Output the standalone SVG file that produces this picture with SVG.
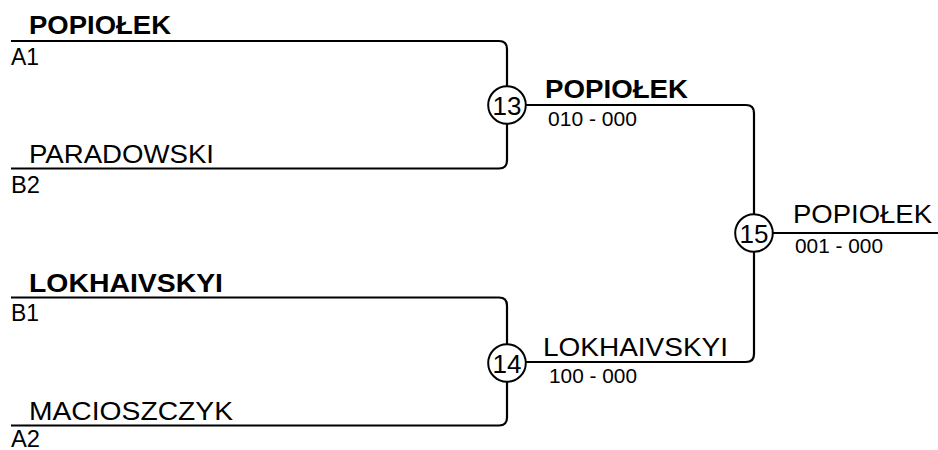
<svg xmlns="http://www.w3.org/2000/svg" width="938" height="450" viewBox="0 0 938 450">
<style>
.ln{fill:none;stroke:#000;stroke-width:2.2}
.c{fill:#fff;stroke:#000;stroke-width:2}
text{font-family:"Liberation Sans",Arial,sans-serif;fill:#000}
.nm{font-size:26px}
.b{font-weight:bold}
.sd{font-size:24.5px}
.sc{font-size:20.5px}
.num{font-size:26px;text-anchor:middle}
</style>
<rect width="938" height="450" fill="#fff"/>
<g id="connectors">
<path class="ln" d="M11,41 H499 Q507,41 507,49 V86"/>
<path class="ln" d="M507,124 V160.5 Q507,168.5 499,168.5 H11"/>
<path class="ln" d="M526,105 H746 Q754,105 754,113 V214"/>
<path class="ln" d="M11,297.5 H499 Q507,297.5 507,305.5 V344"/>
<path class="ln" d="M507,382 V417.5 Q507,425.5 499,425.5 H11"/>
<path class="ln" d="M526,362 H746 Q754,362 754,354 V252"/>
<path class="ln" d="M773,233 H938"/>
</g>
<g id="entry-a1">
<text class="nm b" x="29" y="33.5" textLength="142" lengthAdjust="spacingAndGlyphs">POPIOŁEK</text>
<text class="sd" x="11" y="64.5" textLength="28" lengthAdjust="spacingAndGlyphs">A1</text>
</g>
<g id="entry-b2">
<text class="nm" x="29" y="162.5" textLength="185" lengthAdjust="spacingAndGlyphs">PARADOWSKI</text>
<text class="sd" x="11" y="192.5" textLength="29" lengthAdjust="spacingAndGlyphs">B2</text>
</g>
<g id="entry-b1">
<text class="nm b" x="29" y="292" textLength="194" lengthAdjust="spacingAndGlyphs">LOKHAIVSKYI</text>
<text class="sd" x="11" y="321" textLength="28" lengthAdjust="spacingAndGlyphs">B1</text>
</g>
<g id="entry-a2">
<text class="nm" x="29" y="420" textLength="204" lengthAdjust="spacingAndGlyphs">MACIOSZCZYK</text>
<text class="sd" x="11" y="447" textLength="29" lengthAdjust="spacingAndGlyphs">A2</text>
</g>
<g id="match-13">
<circle class="c" cx="507" cy="105" r="18.8"/>
<text class="num" x="507" y="114.5">13</text>
<text class="nm b" x="545" y="98" textLength="143" lengthAdjust="spacingAndGlyphs">POPIOŁEK</text>
<text class="sc" x="548" y="126" textLength="89" lengthAdjust="spacingAndGlyphs">010 - 000</text>
</g>
<g id="match-14">
<circle class="c" cx="507" cy="363" r="18.8"/>
<text class="num" x="507" y="372.5">14</text>
<text class="nm" x="543" y="356" textLength="185" lengthAdjust="spacingAndGlyphs">LOKHAIVSKYI</text>
<text class="sc" x="549" y="383" textLength="88" lengthAdjust="spacingAndGlyphs">100 - 000</text>
</g>
<g id="match-15">
<circle class="c" cx="754" cy="233" r="18.8"/>
<text class="num" x="754" y="242.5">15</text>
<text class="nm" x="793" y="223" textLength="139" lengthAdjust="spacingAndGlyphs">POPIOŁEK</text>
<text class="sc" x="795" y="253" textLength="88" lengthAdjust="spacingAndGlyphs">001 - 000</text>
</g>
</svg>
